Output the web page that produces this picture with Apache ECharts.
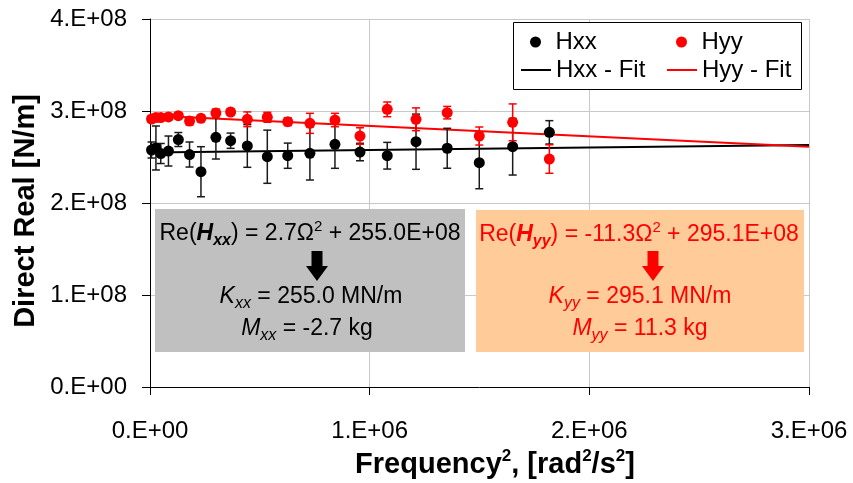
<!DOCTYPE html>
<html><head><meta charset="utf-8">
<script src="https://cdn.jsdelivr.net/npm/echarts@6/dist/echarts.min.js"></script>
<style>html,body{margin:0;padding:0;background:#fff}#c{width:853px;height:483px}</style>
</head><body><div id="c"></div>
<script>
// ---- data ----
const freqSq = [7000, 27000, 49000, 84000, 129000, 180000, 232000, 300000, 367000, 443000, 534000,
                627000, 728000, 842000, 956000, 1080000, 1211000, 1353000, 1499000, 1651000, 1818000];
const hxx = [2.576e8, 2.598e8, 2.538e8, 2.565e8, 2.690e8, 2.527e8, 2.340e8, 2.714e8, 2.677e8, 2.620e8, 2.503e8,
             2.514e8, 2.540e8, 2.638e8, 2.554e8, 2.514e8, 2.666e8, 2.595e8, 2.438e8, 2.612e8, 2.768e8];
const hxxErr = [0.087e8, 0.239e8, 0.109e8, 0.163e8, 0.076e8, 0.136e8, 0.272e8, 0.236e8, 0.083e8, 0.232e8, 0.289e8,
                0.137e8, 0.290e8, 0.261e8, 0.095e8, 0.145e8, 0.300e8, 0.217e8, 0.283e8, 0.308e8, 0.127e8];
const hyy = [2.913e8, 2.929e8, 2.929e8, 2.935e8, 2.949e8, 2.891e8, 2.921e8, 2.978e8, 2.989e8, 2.910e8, 2.932e8,
             2.884e8, 2.866e8, 2.902e8, 2.728e8, 3.018e8, 2.910e8, 2.982e8, 2.728e8, 2.877e8, 2.478e8];
const hyyErr = [0.033e8, 0.033e8, 0.033e8, 0.033e8, 0.033e8, 0.043e8, 0.033e8, 0.043e8, 0.033e8, 0.080e8, 0.054e8,
                0.043e8, 0.109e8, 0.073e8, 0.090e8, 0.080e8, 0.124e8, 0.068e8, 0.098e8, 0.200e8, 0.155e8];
const fitX = [0, 3000000];
const hxxFit = [255.0e6, 263.1e6];
const hyyFit = [295.1e6, 261.2e6];
const xTickLabels = ['0.E+00', '1.E+06', '2.E+06', '3.E+06'];
const yTickLabels = ['0.E+00', '1.E+08', '2.E+08', '3.E+08', '4.E+08'];
const seriesNames = ['Hxx', 'Hyy', 'Hxx - Fit', 'Hyy - Fit'];

const FONT = "'Liberation Sans', Arial, sans-serif";
const chart = echarts.init(document.getElementById('c'), null, {renderer: 'canvas'});

function errRender(color) {
  return function (params, api) {
    const x = api.value(0), y = api.value(1), e = api.value(2);
    const t = api.coord([x, y + e]);
    const b = api.coord([x, y - e]);
    const hw = 4;
    const style = {stroke: color, lineWidth: 1.5, fill: null};
    return {type: 'group', children: [
      {type: 'line', shape: {x1: t[0], y1: t[1], x2: b[0], y2: b[1]}, style: style},
      {type: 'line', shape: {x1: t[0] - hw, y1: t[1], x2: t[0] + hw, y2: t[1]}, style: style},
      {type: 'line', shape: {x1: b[0] - hw, y1: b[1], x2: b[0] + hw, y2: b[1]}, style: style}
    ]};
  };
}

function legendAt(name, left, top, icon, ih) {
  return {
    data: [{name: name, icon: icon}], left: left, top: top, padding: 0,
    itemWidth: 30, itemHeight: ih, selectedMode: false, z: 20,
    textStyle: {fontSize: 24, fontFamily: FONT, color: '#000', lineHeight: 26}
  };
}

const baseRich = {
  n: {fontSize: 23, fontFamily: FONT, lineHeight: 30},
  h: {fontSize: 23, fontFamily: FONT, fontWeight: 'bold', fontStyle: 'italic', lineHeight: 30},
  hs: {fontSize: 16, fontFamily: FONT, fontWeight: 'bold', fontStyle: 'italic', lineHeight: 19, verticalAlign: 'bottom'},
  i: {fontSize: 23, fontFamily: FONT, fontStyle: 'italic', lineHeight: 30},
  is: {fontSize: 16, fontFamily: FONT, fontStyle: 'italic', lineHeight: 19, verticalAlign: 'bottom'},
  sup: {fontSize: 15, fontFamily: FONT, lineHeight: 25, verticalAlign: 'top'}
};
function annText(x, y, text, color) {
  return {type: 'text', x: x, y: y, z: 12,
    style: {text: text, rich: baseRich, fill: color, align: 'center', verticalAlign: 'middle', font: '23px ' + FONT}};
}
function arrow(cx, color) {
  return {type: 'polygon', z: 12, shape: {points: [
    [cx - 5.5, 251], [cx + 5.5, 251], [cx + 5.5, 266], [cx + 11, 266], [cx, 281], [cx - 11, 266], [cx - 5.5, 266]
  ]}, style: {fill: color}};
}

const option = {
  animation: false,
  backgroundColor: '#fff',
  grid: {left: 150, top: 19, width: 659, height: 368, containLabel: false},
  xAxis: {
    type: 'value', min: 0, max: 3000000, interval: 1000000,
    axisLine: {show: true, lineStyle: {color: '#000', width: 1}},
    axisTick: {show: true, inside: false, length: 8, lineStyle: {color: '#000'}},
    axisLabel: {margin: 32, fontSize: 24, fontFamily: FONT, color: '#000',
      formatter: v => xTickLabels[Math.round(v / 1000000)]},
    splitLine: {show: true, lineStyle: {color: '#c8c8c8', width: 1}}
  },
  yAxis: {
    type: 'value', min: 0, max: 400000000, interval: 100000000,
    axisLine: {show: true, lineStyle: {color: '#000', width: 1}},
    axisTick: {show: true, inside: false, length: 8, lineStyle: {color: '#000'}},
    axisLabel: {margin: 23, fontSize: 24, fontFamily: FONT, color: '#000',
      formatter: v => yTickLabels[Math.round(v / 100000000)]},
    splitLine: {show: true, lineStyle: {color: '#c8c8c8', width: 1}}
  },
  legend: [
    legendAt(seriesNames[0], 530, 29, 'circle', 11),
    legendAt(seriesNames[1], 676, 29, 'circle', 11),
    legendAt(seriesNames[2], 521, 57, 'rect', 2),
    legendAt(seriesNames[3], 667, 57, 'rect', 2)
  ],
  graphic: [
    {type: 'rect', z: 10, shape: {x: 513.5, y: 22.5, width: 288, height: 67}, style: {fill: '#fff', stroke: '#000', lineWidth: 1}},
    {type: 'rect', z: 10, shape: {x: 155, y: 209, width: 310, height: 143}, style: {fill: '#c0c0c0'}},
    {type: 'rect', z: 10, shape: {x: 476, y: 210, width: 328, height: 142}, style: {fill: '#ffcc99'}},
    annText(310, 234, '{n|Re(}{h|H}{hs|xx}{n|) = 2.7Ω}{sup|2}{n| + 255.0E+08}', '#000'),
    arrow(317, '#000'),
    annText(311, 297, '{i|K}{is|xx}{n| = 255.0 MN/m}', '#000'),
    annText(307, 329, '{i|M}{is|xx}{n| = -2.7 kg}', '#000'),
    annText(639, 235, '{n|Re(}{h|H}{hs|yy}{n|) = -11.3Ω}{sup|2}{n| + 295.1E+08}', '#ff0000'),
    arrow(653, '#ff0000'),
    annText(640, 297, '{i|K}{is|yy}{n| = 295.1 MN/m}', '#ff0000'),
    annText(640, 329, '{i|M}{is|yy}{n| = 11.3 kg}', '#ff0000'),
    {type: 'text', x: 26, y: 211, rotation: Math.PI / 2, z: 12,
      style: {text: 'Direct Real [N/m]', fill: '#000', align: 'center', verticalAlign: 'middle',
        font: 'bold 29px ' + FONT}},
    {type: 'text', x: 495, y: 465, z: 12,
      style: {text: '{b|Frequency}{s|2}{b|, [rad}{s|2}{b|/s}{s|2}{b|]}', fill: '#000', align: 'center', verticalAlign: 'middle',
        rich: {
          b: {fontSize: 29, fontWeight: 'bold', fontFamily: FONT, lineHeight: 34},
          s: {fontSize: 17, fontWeight: 'bold', fontFamily: FONT, lineHeight: 30, verticalAlign: 'top'}
        }}}
  ],
  series: [
    {name: seriesNames[2], type: 'line', data: fitX.map((x, i) => [x, hxxFit[i]]), color: '#000',
      symbol: 'none', lineStyle: {color: '#000', width: 2}, z: 2},
    {name: seriesNames[3], type: 'line', data: fitX.map((x, i) => [x, hyyFit[i]]), color: '#ff0000',
      symbol: 'none', lineStyle: {color: '#ff0000', width: 2}, z: 2},
    {name: 'Hxx err', type: 'custom', renderItem: errRender('#1a1a1a'), encode: {x: 0, y: 1},
      data: freqSq.map((x, i) => [x, hxx[i], hxxErr[i]]), z: 3},
    {name: 'Hyy err', type: 'custom', renderItem: errRender('#ff0000'), encode: {x: 0, y: 1},
      data: freqSq.map((x, i) => [x, hyy[i], hyyErr[i]]), z: 3},
    {name: seriesNames[0], type: 'scatter', data: freqSq.map((x, i) => [x, hxx[i]]), color: '#000',
      symbol: 'circle', symbolSize: 11, itemStyle: {color: '#000', opacity: 1}, z: 5},
    {name: seriesNames[1], type: 'scatter', data: freqSq.map((x, i) => [x, hyy[i]]), color: '#ff0000',
      symbol: 'circle', symbolSize: 11, itemStyle: {color: '#ff0000', opacity: 1}, z: 5}
  ]
};
chart.setOption(option);
</script></body></html>
